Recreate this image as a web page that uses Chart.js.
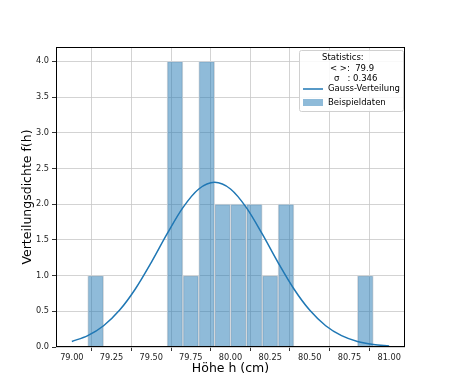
<!DOCTYPE html>
<html><head><meta charset="utf-8">
<script src="https://cdn.jsdelivr.net/npm/chart.js@4"></script>
<style>html,body{margin:0;padding:0;background:#fff}#wrap{width:450px;height:390px}</style>
</head><body><div id="wrap"><canvas id="c" width="450" height="390"></canvas></div>
<script>
const binCenters = [79.15, 79.65, 79.75, 79.85, 79.95, 80.05, 80.15, 80.25, 80.35, 80.85];
const binCounts  = [1, 4, 1, 4, 2, 2, 2, 1, 2, 1];
const curveX = [79.0,79.1,79.2,79.3,79.4,79.5,79.6,79.7,79.8,79.9,80.0,80.1,80.2,80.3,80.4,80.5,80.6,80.7,80.8,80.9,81.0];
const curveY = [0.078,0.159,0.298,0.513,0.812,1.182,1.583,1.951,2.212,2.306,2.212,1.951,1.583,1.182,0.812,0.513,0.298,0.159,0.078,0.035,0.015];
const xTicks = [79.00,79.25,79.50,79.75,80.00,80.25,80.50,80.75,81.00];
const yTicks = [0,0.5,1.0,1.5,2.0,2.5,3.0,3.5,4.0];
const statLines = ['Statistics:', '< >:  79.9', 'σ   : 0.346'];
const labelGauss = 'Gauss-Verteilung';
const labelData = 'Beispieldaten';

const FONT = '"DejaVu Sans", sans-serif';
const lineColor = '#1f77b4';
const barColor = 'rgba(31,119,180,0.5)';

const legendPlugin = {
  id: 'mplLegend',
  afterDraw(chart) {
    const ctx = chart.ctx, a = chart.chartArea;
    ctx.save();
    ctx.strokeStyle = '#000'; ctx.lineWidth = 1;
    ctx.strokeRect(a.left + 0.5, a.top + 0.5, a.right - a.left - 1, a.bottom - a.top - 1);
    const bx = 299, by = 50, bw = 104, bh = 61;
    ctx.fillStyle = 'rgba(255,255,255,0.85)';
    ctx.strokeStyle = '#d0d0d0';
    ctx.beginPath();
    ctx.roundRect(bx + 0.5, by + 0.5, bw, bh, 2);
    ctx.fill(); ctx.stroke();
    ctx.fillStyle = '#000';
    ctx.font = '8.5px ' + FONT;
    ctx.textBaseline = 'middle';
    ctx.textAlign = 'left';
    ctx.fillText(statLines[0], 322, 58);
    ctx.fillText(statLines[1], 330, 68.5);
    ctx.fillText(statLines[2], 334, 78.5);
    ctx.strokeStyle = lineColor; ctx.lineWidth = 1.5;
    ctx.beginPath(); ctx.moveTo(303, 89); ctx.lineTo(323, 89); ctx.stroke();
    ctx.fillText(labelGauss, 328, 89);
    ctx.fillStyle = barColor;
    ctx.fillRect(303, 99, 20, 7);
    ctx.fillStyle = '#000';
    ctx.fillText(labelData, 328, 102.5);
    ctx.restore();
  }
};

new Chart(document.getElementById('c'), {
  type: 'bar',
  data: {
    datasets: [
      {
        type: 'line', label: labelGauss,
        data: curveX.map((x, i) => ({x, y: curveY[i]})),
        borderColor: lineColor, borderWidth: 1.5, pointRadius: 0,
        cubicInterpolationMode: 'monotone', fill: false, order: 0
      },
      {
        type: 'bar', label: labelData,
        data: binCenters.map((x, i) => ({x, y: binCounts[i]})),
        backgroundColor: barColor, borderColor: 'rgba(205,210,215,0.9)', borderWidth: 1,
        barPercentage: 1.0, categoryPercentage: 1.0, grouped: false, order: 1
      }
    ]
  },
  options: {
    responsive: false, animation: false,
    layout: { padding: { left: 0, right: 45, top: 47, bottom: 0 } },
    plugins: { legend: { display: false }, tooltip: { enabled: false } },
    scales: {
      x: {
        type: 'linear', min: 78.9, max: 81.1, offset: false,
        afterBuildTicks: s => { s.ticks = xTicks.map(v => ({value: v})); },
        afterFit: s => { s.height = 43; },
        ticks: { callback: v => v.toFixed(2), font: { family: FONT, size: 8.2 }, color: '#222', maxRotation: 0, autoSkip: false, padding: 2 },
        grid: { color: '#c8c8c8', lineWidth: 0.8, tickColor: '#000', tickLength: 4 },
        border: { display: false },
        title: { display: true, text: 'Höhe h (cm)', font: { family: FONT, size: 12.5 }, color: '#000', padding: { top: 0, bottom: 13.5 } }
      },
      y: {
        type: 'linear', min: 0, max: 4.2,
        afterBuildTicks: s => { s.ticks = yTicks.map(v => ({value: v})); },
        afterFit: s => { s.width = 56; },
        ticks: { callback: v => v.toFixed(1), font: { family: FONT, size: 8.2 }, color: '#222', padding: 3 },
        grid: { color: '#c8c8c8', lineWidth: 0.8, tickColor: '#000', tickLength: 4 },
        border: { display: false },
        title: { display: true, text: 'Verteilungsdichte f(h)', font: { family: FONT, size: 12.5 }, color: '#000', padding: { top: 20.5, bottom: 0 } }
      }
    }
  },
  plugins: [legendPlugin]
});
</script>
</body></html>
